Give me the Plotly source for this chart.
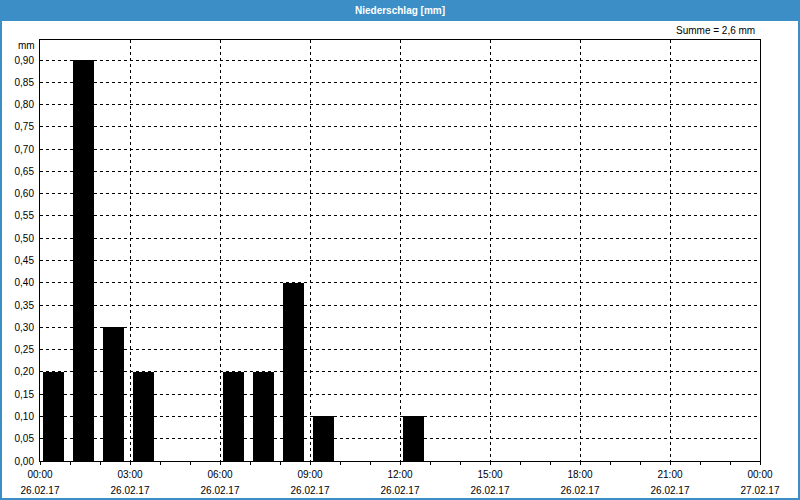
import plotly.graph_objects as go

# ---- data ----
hours = [0, 1, 2, 3, 6, 7, 8, 9, 12]          # hour of day (start of hourly interval)
precip = [0.2, 0.9, 0.3, 0.2, 0.2, 0.2, 0.4, 0.1, 0.1]  # mm
tick_hours = [0, 3, 6, 9, 12, 15, 18, 21, 24]
tick_times = ["00:00", "03:00", "06:00", "09:00", "12:00", "15:00", "18:00", "21:00", "00:00"]
tick_dates = ["26.02.17"] * 8 + ["27.02.17"]
title_text = "<b>Niederschlag [mm]</b>"
sum_text = "Summe = 2,6 mm"
unit_text = "mm"

W, H = 800, 500
ML, MR, MT, MB = 40, 40, 40, 39
PW, PH = W - ML - MR, H - MT - MB

def px(xpix):
    return (xpix - ML) / PW

def py(ypix):
    return 1 - (ypix - MT) / PH

BLUE = "#3b8fc6"
FONT = "Liberation Sans"

fig = go.Figure()
fig.add_trace(go.Bar(
    x=hours, y=precip, width=0.7, offset=0.09,
    marker=dict(color="#000000", line=dict(width=0)),
    xaxis="x", yaxis="y", hoverinfo="skip",
))
# invisible trace for second x axis (date row)
fig.add_trace(go.Scatter(x=[0, 24], y=[0, 0], mode="markers", marker=dict(opacity=0),
                         xaxis="x2", yaxis="y", showlegend=False, hoverinfo="skip"))

fig.update_layout(
    width=W, height=H,
    margin=dict(l=ML, r=MR, t=MT, b=MB, pad=0, autoexpand=False),
    paper_bgcolor="white", plot_bgcolor="white",
    separators=",.",
    showlegend=False,
    bargap=0,
    font=dict(family=FONT, size=10, color="#000000"),
    xaxis=dict(
        range=[0, 24], tickmode="array", tickvals=tick_hours, ticktext=tick_times,
        showline=True, linecolor="black", linewidth=1, mirror=True,
        ticks="outside", ticklen=3, tickcolor="black", tickwidth=1,
        showgrid=True, gridcolor="black", gridwidth=1, griddash="dot",
        zeroline=False, automargin=False,
        minor=dict(tickmode="linear", tick0=0, dtick=1, ticks="outside", ticklen=3,
                   tickcolor="black", showgrid=False),
        ticklabelstandoff=1,
        tickfont=dict(family=FONT, size=10, color="#000000"),
    ),
    xaxis2=dict(
        range=[0, 24], overlaying="x", side="bottom", anchor="y",
        tickmode="array", tickvals=tick_hours, ticktext=tick_dates,
        showline=False, showgrid=False, zeroline=False, ticks="", automargin=False,
        ticklabelstandoff=22,
        tickfont=dict(family=FONT, size=10, color="#000000"),
    ),
    yaxis=dict(
        range=[0, 0.945], tickmode="linear", tick0=0, dtick=0.05, tickformat=".2f",
        showline=True, linecolor="black", linewidth=1, mirror=True,
        ticks="", showgrid=True, gridcolor="black", gridwidth=1, griddash="dot",
        zeroline=False, ticklabelstandoff=3, automargin=False,
        tickfont=dict(family=FONT, size=10, color="#000000"),
    ),
)

shapes = [
    # title bar
    dict(type="rect", xref="paper", yref="paper", x0=px(0), x1=px(W), y0=py(21), y1=py(0),
         fillcolor=BLUE, line=dict(width=0), layer="above"),
    # window border
    dict(type="rect", xref="paper", yref="paper", x0=px(1), x1=px(W - 1), y0=py(H - 1), y1=py(1),
         fillcolor="rgba(0,0,0,0)", line=dict(color=BLUE, width=2), layer="above"),
]
fig.update_layout(shapes=shapes)

fig.add_annotation(text=title_text, xref="paper", yref="paper", x=px(400), y=py(10.5),
                   xanchor="center", yanchor="middle", showarrow=False,
                   font=dict(family=FONT, size=10, color="white"))
fig.add_annotation(text=sum_text, xref="paper", yref="paper", x=px(757), y=py(31),
                   xanchor="right", yanchor="middle", showarrow=False,
                   font=dict(family=FONT, size=10, color="#000000"))
fig.add_annotation(text=unit_text, xref="paper", yref="paper", x=px(37), y=py(45),
                   xanchor="right", yanchor="middle", showarrow=False,
                   font=dict(family=FONT, size=10, color="#000000"))

fig.write_html("out.html")
